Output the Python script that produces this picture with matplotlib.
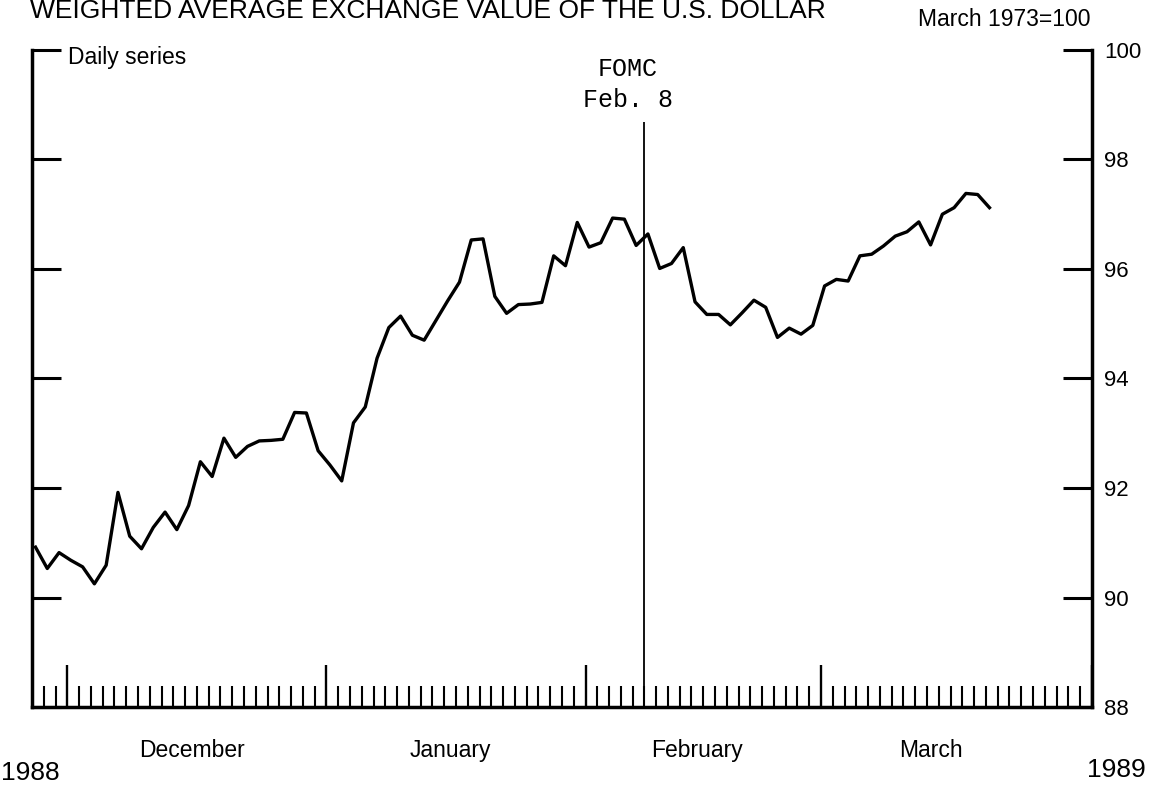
import numpy as np
import pandas as pd
import matplotlib
matplotlib.use("Agg")
import matplotlib.pyplot as plt
import matplotlib.transforms as mtransforms
from matplotlib.ticker import FixedLocator, NullFormatter

# daily (business day) index values, starting Nov 28 1988
dollar_index = [90.92, 90.53, 90.82, 90.68, 90.56, 90.25, 90.59, 91.92, 91.12, 90.89,
                91.28, 91.56, 91.24, 91.68, 92.48, 92.21, 92.91, 92.56, 92.76, 92.86,
                92.87, 92.89, 93.38, 93.37, 92.68, 92.42, 92.13, 93.19, 93.48, 94.37,
                94.93, 95.14, 94.79, 94.70, 95.06, 95.42, 95.76, 96.53, 96.55, 95.50,
                95.19, 95.35, 95.36, 95.39, 96.24, 96.06, 96.85, 96.40, 96.48, 96.93,
                96.91, 96.43, 96.64, 96.01, 96.10, 96.39, 95.40, 95.17, 95.17, 94.98,
                95.20, 95.43, 95.30, 94.75, 94.92, 94.81, 94.97, 95.69, 95.81, 95.78,
                96.24, 96.27, 96.42, 96.60, 96.68, 96.86, 96.44, 97.00, 97.12, 97.38,
                97.36, 97.12]
axis_start = "1988-11-28"
axis_days = 91
fomc_date = "1989-02-08"
month_names = ["December", "January", "February", "March"]
y_ticks = [88, 90, 92, 94, 96, 98, 100]

title = "WEIGHTED AVERAGE EXCHANGE VALUE OF THE U.S. DOLLAR"
units = "March 1973=100"

plt.rcParams['font.family'] = ['Liberation Sans', 'DejaVu Sans']

days = pd.bdate_range(axis_start, periods=axis_days)
month_starts = [i for i in range(1, len(days)) if days[i].month != days[i - 1].month]
fomc_idx = days.get_loc(pd.Timestamp(fomc_date))

fig = plt.figure(figsize=(11.5, 7.92), dpi=100)
ax = fig.add_axes([0.0278, 0.1073, 0.9217, 0.8296])

x = np.arange(len(dollar_index))
ax.plot(x + 0.3, dollar_index, color='black', lw=2.4)
ax.vlines(fomc_idx, 88, 98.68, color='black', lw=1.3)

ax.set_xlim(0, len(days) - 1)
ax.set_ylim(88, 100)

ax.spines['top'].set_visible(False)
for s in ['left', 'right', 'bottom']:
    ax.spines[s].set_linewidth(2.5)

# y axis: ticks both sides pointing in, labels on the right
ax.yaxis.set_major_locator(FixedLocator(y_ticks))
ax.yaxis.set_minor_locator(FixedLocator([100]))
ax.yaxis.set_minor_formatter(NullFormatter())
ax.tick_params(axis='y', which='major', direction='in', left=True, right=True,
               labelleft=False, labelright=True, length=21, width=2.2, pad=9,
               labelsize=16)
ax.tick_params(axis='y', which='minor', direction='in', left=True, right=True,
               length=29, width=2.5)

# x axis: a tick per business day, taller at month starts
ax.xaxis.set_major_locator(FixedLocator(month_starts))
ax.xaxis.set_minor_locator(FixedLocator(list(range(1, len(days) - 1))))
ax.xaxis.set_major_formatter(NullFormatter())
ax.tick_params(axis='x', which='major', direction='in', bottom=True, top=False,
               length=30, width=1.7)
ax.tick_params(axis='x', which='minor', direction='in', bottom=True, top=False,
               length=15, width=1.5)

trans = mtransforms.blended_transform_factory(ax.transData, ax.transAxes)
month_label_x = [13.6, 35.5, 56.5, 76.3]
for name, mx in zip(month_names, month_label_x):
    ax.text(mx, -0.066, name, transform=trans, ha='center', va='center', fontsize=16.5)

fig.text(0.026, 0.024, "1988", ha='center', va='center', fontsize=19)
fig.text(0.971, 0.028, "1989", ha='center', va='center', fontsize=19)

fig.text(30 / 1150, 1 - 18 / 792, title, ha='left', va='baseline', fontsize=19)
fig.text(0.948, 0.975, units, ha='right', va='center', fontsize=16.5)
ax.text(0.034, 0.989, "Daily series", transform=ax.transAxes, ha='left',
        va='center', fontsize=16.5)

ax.annotate("FOMC", (fomc_idx, 99.65), xytext=(-12, 0), textcoords='offset points',
            ha='center', va='center', fontsize=18, family='Liberation Mono')
ax.annotate("Feb. 8", (fomc_idx, 99.08), xytext=(-12, 0), textcoords='offset points',
            ha='center', va='center', fontsize=18, family='Liberation Mono')

fig.savefig("out.png", dpi=100, facecolor='white')
